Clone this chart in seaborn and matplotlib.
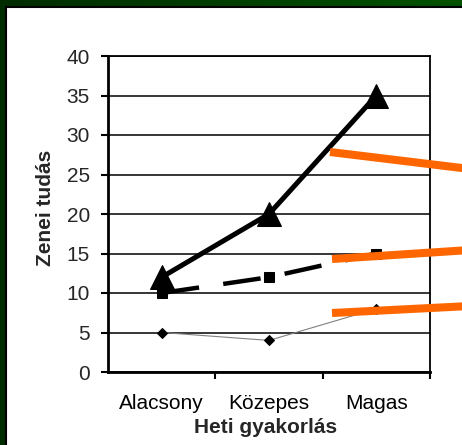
import matplotlib.pyplot as plt
import matplotlib.lines as mlines
import matplotlib.patches as mpatches
import numpy as np
import pandas as pd
import seaborn as sns
from matplotlib.colors import LinearSegmentedColormap

# data
categories = ["Alacsony", "Közepes", "Magas"]
series_triangle = [12, 20, 35]
series_square = [10, 12, 15]
series_diamond = [5, 4, 8]

# orange callout strokes (pixel coords in the 462x445 picture)
callouts = [
    ((330, 152), (470, 169)),
    ((332, 259), (470, 250)),
    ((332, 313), (470, 306)),
]

W, H = 462, 445

sns.set_theme(style="white")
plt.rcParams["font.family"] = ["Liberation Sans", "DejaVu Sans"]

fig = plt.figure(figsize=(W / 100, H / 100), dpi=100)

# green gradient frame with white panel
ax_bg = fig.add_axes([0, 0, 1, 1], zorder=-10)
grad = np.linspace(0, 1, 256).reshape(1, -1)
green = LinearSegmentedColormap.from_list("g", ["#002c00", "#005200"])
ax_bg.imshow(grad, cmap=green, aspect="auto", extent=[0, 1, 0, 1])
ax_bg.add_patch(
    mpatches.Rectangle(
        (6 / W, -0.05),
        1.1,
        (H - 7) / H + 0.05,
        facecolor="white",
        edgecolor="black",
        linewidth=1.5,
    )
)
ax_bg.set_xlim(0, 1)
ax_bg.set_ylim(0, 1)
ax_bg.axis("off")

ax = fig.add_axes([108 / W, 1 - 372 / H, (430 - 108) / W, (372 - 56) / H])
ax.set_facecolor("white")

df = pd.DataFrame(
    {
        "cat": categories,
        "tri": series_triangle,
        "sq": series_square,
        "dia": series_diamond,
    }
)

sns.lineplot(
    data=df, x="cat", y="dia", ax=ax, color="#808080", linewidth=0.8,
    marker="D", markersize=5, markerfacecolor="black", markeredgecolor="black",
    sort=False, zorder=3,
)
sns.lineplot(
    data=df, x="cat", y="sq", ax=ax, color="black", linewidth=3.2,
    linestyle=(0, (8.5, 5.5)), marker="s", markersize=7,
    markerfacecolor="black", markeredgecolor="black", sort=False, zorder=3,
)
sns.lineplot(
    data=df, x="cat", y="tri", ax=ax, color="black", linewidth=3.6,
    marker="^", markersize=17, markerfacecolor="black", markeredgecolor="black",
    sort=False, zorder=3,
)

ax.set_xlim(-0.5, 2.5)
ax.set_ylim(0, 40)
ax.set_yticks(np.arange(0, 41, 5))
ax.grid(axis="y", color="black", linewidth=1.1)
ax.grid(axis="x", visible=False)
ax.set_axisbelow(True)

ax.set_xticks([0, 1, 2])
ax.set_xticklabels(categories)
ax.set_xticks([0.5, 1.5, 2.5], minor=True)
ax.tick_params(axis="x", which="major", length=0, pad=16, labelsize=15, colors="black")
ax.tick_params(axis="x", which="minor", length=5, width=1.5, color="black", direction="out", bottom=True)
ax.tick_params(axis="y", length=5, width=1.5, color="black", direction="out", pad=8, labelsize=15, left=True)

for side in ["left", "bottom"]:
    ax.spines[side].set_linewidth(2)
    ax.spines[side].set_color("black")
for side in ["top", "right"]:
    ax.spines[side].set_linewidth(1.3)
    ax.spines[side].set_color("black")

ax.set_xlabel("Heti gyakorlás", fontsize=15, fontweight="bold")
ax.set_ylabel("Zenei tudás", fontsize=15, fontweight="bold")
ax.xaxis.set_label_coords(0.49, -0.145)
ax.yaxis.set_label_coords(-0.165, 0.52)

for (x0, y0), (x1, y1) in callouts:
    fig.add_artist(
        mlines.Line2D(
            [x0 / W, x1 / W], [1 - y0 / H, 1 - y1 / H],
            transform=fig.transFigure, color="#ff6600", linewidth=5.8,
            solid_capstyle="butt", zorder=20,
        )
    )

fig.savefig("out.png", dpi=100)
